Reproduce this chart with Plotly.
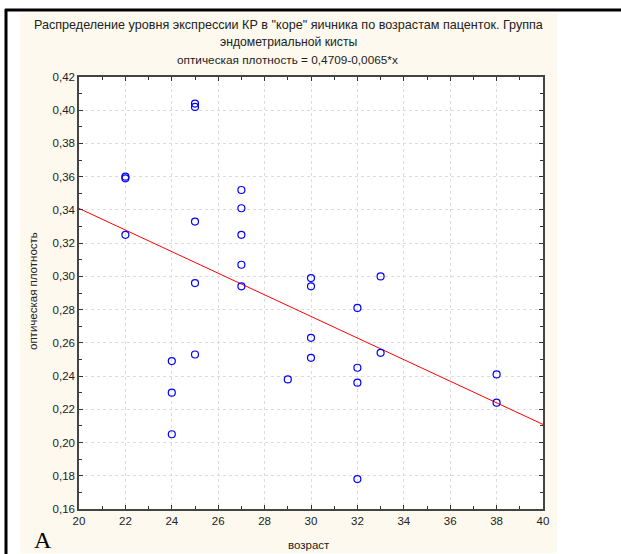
import plotly.graph_objects as go

# Data
age = [22, 22, 22,
       24, 24, 24,
       25, 25, 25, 25, 25,
       27, 27, 27, 27, 27,
       29,
       30, 30, 30, 30,
       32, 32, 32, 32,
       33, 33,
       38, 38]
density = [0.360, 0.359, 0.325,
           0.249, 0.230, 0.205,
           0.404, 0.402, 0.333, 0.296, 0.253,
           0.352, 0.341, 0.325, 0.307, 0.294,
           0.238,
           0.299, 0.294, 0.263, 0.251,
           0.281, 0.245, 0.236, 0.178,
           0.300, 0.254,
           0.241, 0.224]

intercept = 0.4709
slope = -0.0065
line_x = [20, 40]
line_y = [intercept + slope * v for v in line_x]

title_line1 = 'Распределение уровня экспрессии КР в "коре" яичника по возрастам паценток. Группа'
title_line2 = 'эндометриальной кисты'
subtitle = 'оптическая плотность = 0,4709-0,0065*x'
x_title = 'возраст'
y_title = 'оптическая плотность'

W, H = 621, 554
L, R, T, B = 79, 543, 77, 509
pw, ph = R - L, B - T

def px(x):
    return (x - L) / pw

def py(y):
    return (B - y) / ph

fig = go.Figure()
fig.add_trace(go.Scatter(x=line_x, y=line_y, mode='lines',
                         line=dict(color='#ff0000', width=1), hoverinfo='skip'))
fig.add_trace(go.Scatter(x=age, y=density, mode='markers',
                         marker=dict(symbol='circle-open', size=7,
                                     color='#0000ff', line=dict(width=1.2, color='#0000ff'))))

font = 'Liberation Sans, Arial, sans-serif'
shapes = [
    dict(type='rect', xref='paper', yref='paper', x0=px(20), x1=px(557), y0=py(553), y1=py(13),
         fillcolor='#fdf9ee', line=dict(width=0), layer='below'),
    dict(type='rect', xref='paper', yref='paper', x0=0, x1=1, y0=0, y1=1,
         fillcolor='#ffffff', line=dict(width=0), layer='below'),
    dict(type='line', xref='paper', yref='paper', x0=px(5), x1=px(621), y0=py(10), y1=py(10),
         line=dict(color='#000000', width=3)),
    dict(type='line', xref='paper', yref='paper', x0=px(6), x1=px(6), y0=py(9), y1=py(556),
         line=dict(color='#000000', width=3)),
]

ann = [
    dict(text=title_line1, x=px(288), y=py(25), size=12.6),
    dict(text=title_line2, x=px(288), y=py(42), size=12.2),
    dict(text=subtitle, x=px(287), y=py(60), size=11.8),
    dict(text=x_title, x=px(309), y=py(545), size=11.5),
]
annotations = [dict(text=a['text'], x=a['x'], y=a['y'], xref='paper', yref='paper',
                    showarrow=False, xanchor='center', yanchor='middle',
                    font=dict(family=font, size=a['size'], color='#222222')) for a in ann]
annotations.append(dict(text=y_title, x=px(33), y=py(291), xref='paper', yref='paper',
                        showarrow=False, textangle=-90, xanchor='center', yanchor='middle',
                        font=dict(family=font, size=11.5, color='#222222')))
annotations.append(dict(text='A', x=px(43), y=py(540), xref='paper', yref='paper',
                        showarrow=False, xanchor='center', yanchor='middle',
                        font=dict(family='Liberation Serif, Times New Roman, serif', size=24,
                                  color='#000000')))

fig.update_layout(
    width=W, height=H,
    margin=dict(l=L, r=W - R, t=T, b=H - B, pad=0),
    paper_bgcolor='#ffffff', plot_bgcolor='#ffffff',
    showlegend=False, separators=', ',
    shapes=shapes, annotations=annotations,
    font=dict(family=font, size=11.5, color='#222222'),
)
fig.update_xaxes(range=[20, 40], tick0=20, dtick=2, ticks='inside', ticklen=4,
                 tickcolor='#333333', showline=True, linecolor='#444444', linewidth=1.5,
                 mirror='ticks', showgrid=True, gridcolor='#dddddd', griddash='dot',
                 zeroline=False, tickfont=dict(size=11.5, color='#222222'),
                 minor=dict(ticks='inside', dtick=1, ticklen=3, tickcolor='#333333', showgrid=False))
fig.update_yaxes(range=[0.16, 0.42], tick0=0.16, dtick=0.02, tickformat='.2f',
                 ticks='inside', ticklen=4, tickcolor='#333333', showline=True,
                 linecolor='#444444', linewidth=1.5, mirror='ticks', showgrid=True,
                 gridcolor='#dddddd', griddash='dot', zeroline=False,
                 tickfont=dict(size=11.5, color='#222222'),
                 minor=dict(ticks='inside', dtick=0.01, ticklen=3, tickcolor='#333333', showgrid=False))

fig.write_html('out.html')
